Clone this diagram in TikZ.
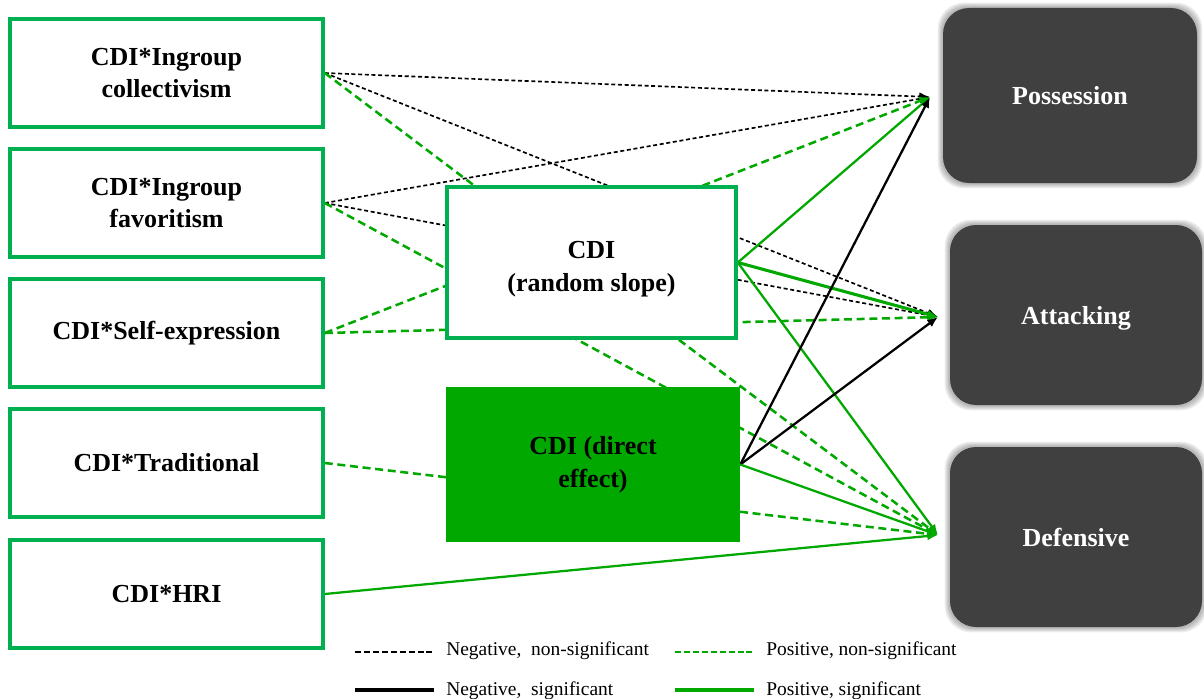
\documentclass[tikz,border=0pt]{standalone}
\usepackage{fontspec}
\setmainfont{Liberation Serif}
\usetikzlibrary{arrows.meta}
\definecolor{boxgreen}{HTML}{00B050}
\definecolor{linegreen}{HTML}{00A800}
\definecolor{fillgreen}{HTML}{00A800}
\definecolor{darkbox}{HTML}{404040}
\pgfdeclarelayer{shadowlayer}
\pgfdeclarelayer{linelayer}
\pgfsetlayers{shadowlayer,linelayer,main}
\begin{document}
\begin{tikzpicture}[x=0.75pt,y=-0.75pt,
  boxfont/.style={font=\fontsize{19.5}{24.5}\selectfont\bfseries},
  leftbox/.style={draw=boxgreen, line width=2.7pt, fill=white, inner sep=0pt,
    minimum width=234.75pt, minimum height=81pt, align=center, boxfont},
  rsbox/.style={draw=boxgreen, line width=2.7pt, fill=white, inner sep=0pt,
    minimum width=216.75pt, minimum height=113.25pt},
  debox/.style={fill=fillgreen, inner sep=0pt,
    minimum width=220.5pt, minimum height=116.25pt, align=center, boxfont},
  outbox/.style={fill=darkbox, text=white, rounded corners=19.5pt, inner sep=0pt,
    minimum width=189pt, minimum height=135pt, text depth=0pt, boxfont},
  tip/.style={-{Latex[length=8pt,width=6.5pt]}},
  negns/.style={tip, black, line width=1.25pt, dash pattern=on 3pt off 2pt},
  posns/.style={tip, linegreen, line width=1.9pt, dash pattern=on 6pt off 3.5pt},
  negs/.style={tip, black, line width=1.7pt},
  poss/.style={tip, linegreen, line width=1.7pt},
  legnegns/.style={black, line width=1.2pt, dash pattern=on 4.5pt off 2.2pt},
  legposns/.style={linegreen, line width=1.2pt, dash pattern=on 4.5pt off 2.2pt},
  legnegs/.style={black, line width=2.3pt},
  legposs/.style={linegreen, line width=2.3pt},
  legtext/.style={anchor=west, inner sep=0pt, font=\fontsize{14.6}{18}\selectfont}
]
\useasboundingbox (0,0) rectangle (1204,699);

% left boxes
\node[leftbox] (b1) at (166.5,73) {CDI*Ingroup\\collectivism};
\node[leftbox] (b2) at (166.5,203) {CDI*Ingroup\\favoritism};
\node[leftbox] (b3) at (166.5,333) {CDI*Self-expression};
\node[leftbox] (b4) at (166.5,463) {CDI*Traditional};
\node[leftbox] (b5) at (166.5,594) {CDI*HRI};

% middle boxes
\node[rsbox, label={[boxfont, align=center, yshift=-5pt]center:CDI\\(random slope)}] (rs) at (591.5,262.5) {};
\node[debox] (de) at (593,464.5) {CDI (direct\\effect)};

% outcome boxes
\node[outbox, minimum width=190.5pt, minimum height=131.25pt] (pos) at (1070,95.5) {Possession};
\node[outbox] (att) at (1076,315) {Attacking};
\node[outbox] (def) at (1076,537) {Defensive};

\begin{pgfonlayer}{shadowlayer}
  \foreach \n in {pos,att,def}{
    \foreach \i in {1,...,5}{
      \fill[darkbox, opacity=0.09, rounded corners=19.5pt]
        ([xshift=-\i*0.75pt, yshift=\i*0.75pt]\n.north west) rectangle
        ([xshift=\i*0.75pt, yshift=-\i*0.75pt]\n.south east);
    }
  }
\end{pgfonlayer}

% arrow targets
\coordinate (pin) at (930,97);
\coordinate (ain) at (938,317);
\coordinate (din) at (938,535);

\begin{pgfonlayer}{linelayer}
  \draw[negns] (b1.east) -- (pin);
  \draw[negns] (b1.east) -- (ain);
  \draw[posns] (b1.east) -- (din);
  \draw[negns] (b2.east) -- (pin);
  \draw[negns] (b2.east) -- (ain);
  \draw[posns] (b2.east) -- (din);
  \draw[posns] (b3.east) -- (pin);
  \draw[posns] (b3.east) -- (ain);
  \draw[posns] (b4.east) -- (din);
  \draw[poss] (b5.east) -- (din);
  \draw[poss] (rs.east) -- (pin);
  \draw[poss, line width=2.3pt] (rs.east) -- (ain);
  \draw[poss] (rs.east) -- (din);
  \draw[negs] (de.east) -- (pin);
  \draw[negs] (de.east) -- (ain);
  \draw[poss] (de.east) -- (din);
\end{pgfonlayer}

% legend
\coordinate (l1a) at (355,652);
\coordinate (l1b) at (435,652);
\coordinate (l2a) at (675,652);
\coordinate (l2b) at (754,652);
\coordinate (l3a) at (355,690);
\coordinate (l3b) at (434,690);
\coordinate (l4a) at (675,690);
\coordinate (l4b) at (754,690);
\draw[legnegns] (l1a) -- (l1b);
\draw[legposns] (l2a) -- (l2b);
\draw[legnegs] (l3a) -- (l3b);
\draw[legposs] (l4a) -- (l4b);
\node[legtext] (t1) at (446,651) {Negative,\ \ non-significant};
\node[legtext] (t2) at (766,651) {Positive, non-significant};
\node[legtext] (t3) at (446,691) {Negative,\ \ significant};
\node[legtext] (t4) at (766,691) {Positive, significant};
\end{tikzpicture}
\end{document}
